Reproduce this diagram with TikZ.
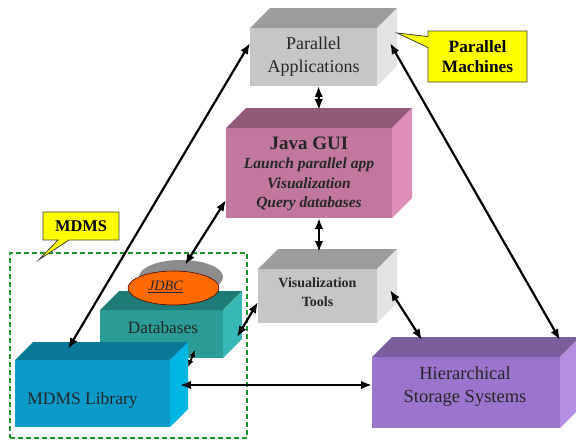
\documentclass[tikz,border=0pt]{standalone}
\usepackage{fontspec}
\setmainfont{Liberation Serif}
\usetikzlibrary{arrows.meta,calc,shapes.geometric,shapes.callouts}

\definecolor{graytop}{HTML}{9C9C9C}
\definecolor{grayfront}{HTML}{C6C6C6}
\definecolor{grayside}{HTML}{E3E3E3}
\definecolor{guitop}{HTML}{935878}
\definecolor{guifront}{HTML}{C2779F}
\definecolor{guiside}{HTML}{E08CB8}
\definecolor{hsstop}{HTML}{7B5C9C}
\definecolor{hssfront}{HTML}{9D74CB}
\definecolor{hssside}{HTML}{B68EE0}
\definecolor{dbtop}{HTML}{1F7B78}
\definecolor{dbfront}{HTML}{2B9C98}
\definecolor{dbside}{HTML}{35B8B6}
\definecolor{libtop}{HTML}{0A7898}
\definecolor{libfront}{HTML}{0A9BC9}
\definecolor{libside}{HTML}{00B6E2}
\definecolor{jdbcfill}{HTML}{FF6A00}
\definecolor{notefill}{HTML}{FFFF00}
\definecolor{mdmsgreen}{HTML}{1E962A}

\newcommand{\cubefaces}[4]{%
	\fill[#2] (#1.north west) -- ++(#4,-#4) -- ($(#1.north east)+(#4,-#4)$) -- (#1.north east) -- cycle;
	\fill[#3] (#1.north east) -- ++(#4,-#4) -- ($(#1.south east)+(#4,-#4)$) -- (#1.south east) -- cycle;
}

\begin{document}
\begin{tikzpicture}[x=1pt, y=-1pt,
		frontface/.style={rectangle, draw=none, outer sep=0pt, inner sep=0pt},
		boxtext/.style={align=center, text=black!85},
		notebox/.style={rectangle callout, fill=notefill, draw=black!75, line width=0.8pt, callout pointer width=11pt, align=center, inner sep=0pt},
		link/.style={{Latex[length=11pt,width=8.5pt]}-{Latex[length=11pt,width=8.5pt]}, line width=2.2pt},
		shortlink/.style={{Latex[length=7pt,width=6pt]}-{Latex[length=7pt,width=6pt]}, line width=1.8pt}]
	\useasboundingbox (0,0) rectangle (576,442);

	\node[frontface, fill=grayfront, minimum width=127pt, minimum height=58pt] (pa) at (313.5,57) {};
	\cubefaces{pa}{graytop}{grayside}{20}
	\node[boxtext, font=\fontsize{18}{23}\selectfont] (patext) at (pa) {Parallel\\Applications};

	\node[frontface, fill=guifront, minimum width=166pt, minimum height=90pt] (gui) at (309,173) {};
	\cubefaces{gui}{guitop}{guiside}{20}
	\node[boxtext, font=\bfseries\itshape\fontsize{15.5}{19.5}\selectfont] (guitext) at ($(gui)+(0,1)$) {{\upshape\fontsize{19}{22}\selectfont Java GUI}\\Launch parallel app\\Visualization\\Query databases};

	\node[frontface, fill=grayfront, minimum width=119pt, minimum height=54pt] (vis) at (317.5,296) {};
	\cubefaces{vis}{graytop}{grayside}{20}
	\node[boxtext, font=\bfseries\fontsize{14}{19}\selectfont] (vistext) at ($(vis)+(0,-4)$) {Visualization\\Tools};

	\node[ellipse, fill=black!45, minimum width=84pt, minimum height=34pt, inner sep=0pt] (jdbcshadow) at (181,277) {};
	\node[frontface, fill=dbfront, minimum width=123pt, minimum height=48pt] (db) at (161.5,334) {};
	\cubefaces{db}{dbtop}{dbside}{19}
	\node[boxtext, font=\fontsize{17.3}{21}\selectfont] (dbtext) at ($(db)+(1.5,-6)$) {Databases};
	\node[ellipse, fill=jdbcfill, draw=black!70!red, line width=0.6pt, minimum width=91pt, minimum height=34pt, inner sep=0pt] (jdbc) at (173.5,288) {};
	\node[boxtext, font=\itshape\fontsize{14.3}{17}\selectfont] (jdbctext) at ($(jdbc)+(-8,-1)$) {\underline{JDBC}};

	\node[frontface, fill=libfront, minimum width=155pt, minimum height=67pt] (lib) at (92.5,393.5) {};
	\cubefaces{lib}{libtop}{libside}{18}
	\node[boxtext, font=\fontsize{17.5}{21}\selectfont] (libtext) at ($(lib)+(-10,6.5)$) {MDMS Library};

	\node[frontface, fill=hssfront, minimum width=188pt, minimum height=71pt] (hss) at (466,392.5) {};
	\cubefaces{hss}{hsstop}{hssside}{20}
	\node[boxtext, font=\fontsize{18.5}{23}\selectfont] (hsstext) at ($(hss)+(-1,-6)$) {Hierarchical\\Storage Systems};

	\node[draw=mdmsgreen, line width=2.4pt, dash pattern=on 5pt off 3pt, minimum width=237pt, minimum height=185pt, inner sep=0pt] (mdmsframe) at (128.5,345.5) {};

	\coordinate (pmtip) at ($(pa.north east)+(20,5)$);
	\node[notebox, font=\bfseries\fontsize{17.3}{20}\selectfont, minimum width=99pt, minimum height=51pt, callout absolute pointer={(pmtip)}] (pmnote) at (477.5,56.5) {Parallel\\Machines};
	\coordinate (mdmstip) at ($(mdmsframe.north west)+(30,8)$);
	\node[notebox, font=\bfseries\fontsize{16.4}{20}\selectfont, minimum width=76pt, minimum height=28pt, callout absolute pointer={(mdmstip)}] (mdmsnote) at (81,226) {MDMS};

	\draw [link] ($(pa.west)+(0,-14)$) to ($(lib.north west)+(53,-11)$);
	\draw [link] ($(pa.north east)+(13,15)$) to ($(hss.north east)+(0,-17)$);
	\draw [link] ($(pa.south)+(5,0)$) to ($(gui.north)+(10,-18)$);
	\draw [link] ($(gui.south)+(10,0)$) to ($(vis.north)+(1.5,-17)$);
	\draw [link] ($(gui.south west)+(0,-18)$) to ($(jdbcshadow.north)+(4,5)$);
	\draw [link] ($(vis.west)+(0,6)$) to ($(db.east)+(14,3)$);
	\draw [link] ($(vis.east)+(13,-6)$) to ($(hss.north west)+(50,-17)$);
	\draw [link] ($(lib.east)+(10,-8.5)$) to ($(hss.west)+(0,-7.5)$);
	\draw [shortlink] ($(db.south east)+(-28,-8)$) to ($(lib.east)+(18,-26.5)$);
\end{tikzpicture}
\end{document}
